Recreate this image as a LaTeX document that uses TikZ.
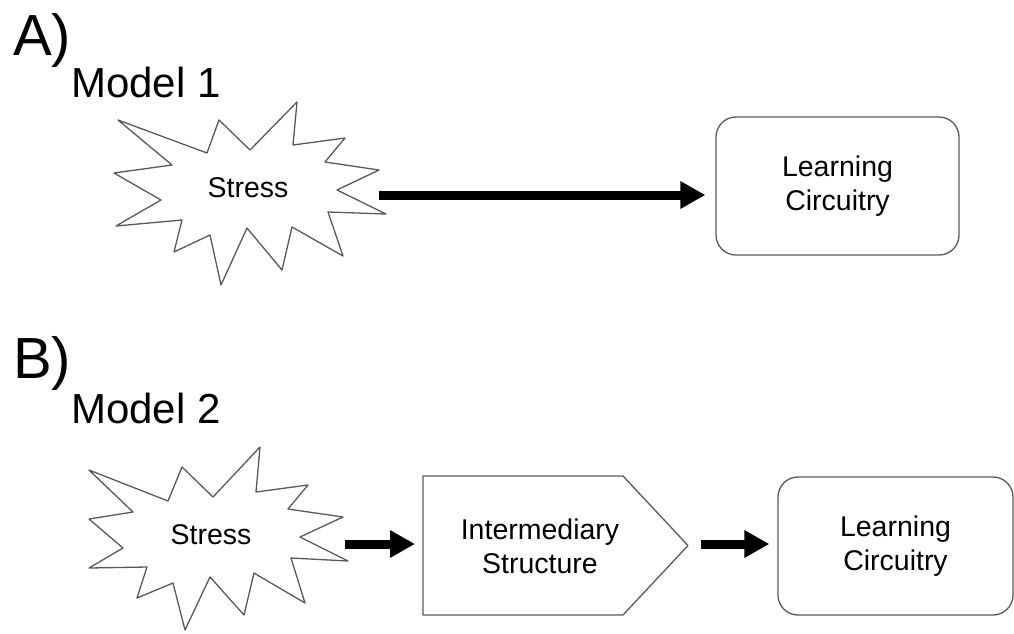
\documentclass[tikz,border=0pt]{standalone}
\usepackage{fontspec}
\setmainfont{Liberation Sans}
\usetikzlibrary{arrows.meta}
\begin{document}
\begin{tikzpicture}[x=1pt, y=-1pt]
% Stress models drawn on a pixel grid (y grows downwards)
\providecommand{\shapeLineColor}{black!65}
\providecommand{\shapeLineWidth}{1.3pt}
\providecommand{\arrowLineWidth}{9pt}
\tikzset{
  boxtext/.style={font=\fontsize{28.5}{34}\selectfont, align=center, inner sep=0pt},
  shapeline/.style={draw=\shapeLineColor, line width=\shapeLineWidth, line join=round},
  learnbox/.style={boxtext, shapeline, rounded corners=20pt, minimum width=243pt, minimum height=138pt},
  bigarrow/.style={line width=\arrowLineWidth, -{Triangle[length=25pt,width=26pt]}},
  panellabel/.style={font=\fontsize{58}{58}\selectfont, anchor=base west, inner sep=0pt},
  modellabel/.style={font=\fontsize{42}{42}\selectfont, anchor=base west, inner sep=0pt}
}
\useasboundingbox (0,0) rectangle (1014,633);
% Panel and model labels
\node[panellabel] (labA) at (13,55) {A)};
\node[modellabel] (modelA) at (71,97) {Model 1};
\node[panellabel] (labB) at (13,378) {B)};
\node[modellabel] (modelB) at (71,423) {Model 2};
% Model 1: stress burst
\draw[shapeline] (118,120) -- (207,153) -- (219,120) -- (250,150) -- (297,102) -- (293,145)
  -- (345,138) -- (325,162) -- (379,170) -- (337,190) -- (386,214) -- (328,212)
  -- (343,256) -- (292,227) -- (282,270) -- (247,228) -- (221,285) -- (210,235)
  -- (174,252) -- (182,220) -- (116,226) -- (161,200) -- (114,173) -- (172,165) -- cycle;
\node[boxtext] (stressA) at (248,188) {Stress};
\node[learnbox] (learnA) at (837.5,186) {Learning\\Circuitry};
\coordinate (stressA-tip) at (379,195);
\draw[bigarrow, shorten >=10pt] (stressA-tip) -- (stressA-tip -| learnA.west);
% Model 2: stress burst
\draw[shapeline] (89,470) -- (168,501) -- (182,467) -- (213,497) -- (260,447) -- (256,492)
  -- (308,485) -- (288,509) -- (343,517) -- (300,537) -- (348,561) -- (291,558)
  -- (305,603) -- (254,573) -- (244,615) -- (210,577) -- (185,630) -- (173,583)
  -- (137,598) -- (147,567) -- (89,568) -- (123,548) -- (89,519) -- (133,512) -- cycle;
\node[boxtext] (stressB) at (211,535) {Stress};
% Intermediary structure (pentagon pointing right)
\draw[shapeline] (423,476) -- (623,476) -- (688,545.5) -- (623,615) -- (423,615) -- cycle;
\node[boxtext] (inter) at (540,546) {Intermediary\\Structure};
\node[learnbox, minimum width=235pt] (learnB) at (895.5,546) {Learning\\Circuitry};
\coordinate (stressB-tip) at (345,544);
\coordinate (inter-w) at (423,544);
\coordinate (inter-tip) at (688,544);
\draw[bigarrow, shorten >=8pt] (stressB-tip) -- (inter-w);
\draw[bigarrow, shorten <=13pt, shorten >=8pt] (inter-tip) -- (inter-tip -| learnB.west);
\end{tikzpicture}
\end{document}
